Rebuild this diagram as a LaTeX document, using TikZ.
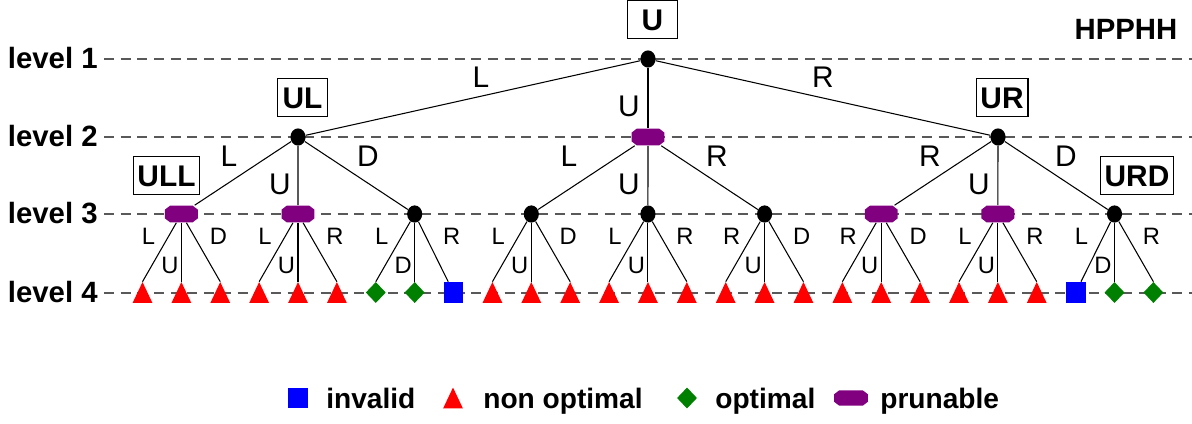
\documentclass[tikz,border=0pt]{standalone}
\usepackage{fontspec}
\setmainfont{Liberation Sans}
\usetikzlibrary{shapes.geometric}
\definecolor{prunecol}{RGB}{128,0,128}
\definecolor{optcol}{RGB}{0,128,0}
\definecolor{nonoptcol}{RGB}{255,0,0}
\definecolor{invcol}{RGB}{0,0,255}
\tikzset{
  levelline/.style={draw=black!65, line width=0.8pt, dash pattern=on 5.7pt off 3.8pt},
  link/.style={draw=black, line width=0.6pt},
  dot/.style={ellipse, fill=black, inner sep=0pt, minimum width=8.6pt, minimum height=9.8pt},
  prune/.style={rectangle, inner sep=0pt, minimum width=18.7pt, minimum height=9.6pt,
    path picture={\fill[prunecol]
      ([xshift=3pt]path picture bounding box.north west) -- ([xshift=-3pt]path picture bounding box.north east)
      -- ([yshift=-2.3pt]path picture bounding box.north east) -- ([yshift=2.3pt]path picture bounding box.south east)
      -- ([xshift=-3pt]path picture bounding box.south east) -- ([xshift=3pt]path picture bounding box.south west)
      -- ([yshift=2.3pt]path picture bounding box.south west) -- ([yshift=-2.3pt]path picture bounding box.north west)
      -- cycle;}},
  leafbox/.style={rectangle, inner sep=0pt, minimum width=11.3pt, minimum height=11.9pt},
  nonoptri/.style={leafbox, path picture={\fill[nonoptcol]
      (path picture bounding box.south west) -- (path picture bounding box.south east)
      -- (path picture bounding box.north) -- cycle;}},
  optdia/.style={leafbox, path picture={\fill[optcol]
      (path picture bounding box.north) -- (path picture bounding box.east)
      -- (path picture bounding box.south) -- (path picture bounding box.west) -- cycle;}},
  invsq/.style={leafbox, fill=invcol},
  tag/.style={draw=black, line width=0.6pt, inner xsep=2.5pt, inner ysep=0pt,
    minimum width=28.9pt, minimum height=22.1pt, text height=12.2pt, text depth=0pt,
    font=\bfseries\fontsize{17}{20}\selectfont},
  bigmove/.style={font=\fontsize{17}{20}\selectfont, inner sep=0pt},
  smallmove/.style={font=\fontsize{13.5}{16}\selectfont, inner sep=0pt},
  levellab/.style={font=\bfseries\fontsize{16.7}{20}\selectfont, inner sep=0pt, anchor=base east},
  legendlab/.style={font=\bfseries\fontsize{16}{20}\selectfont, inner sep=0pt, anchor=base west},
}
\begin{document}
\begin{tikzpicture}[x=0.02cm, y=-0.02cm]
\useasboundingbox (0,0) rectangle (1192,423);

% level guide lines and their labels
\foreach \l/\y in {1/59, 2/137, 3/214, 4/293}{
  \draw[levelline] (104,\y) -- (1192,\y);
  \node[levellab] (lev\l) at (98,\y+9.5) {level \l};
}
\node[font=\bfseries\fontsize{16.7}{20}\selectfont, inner sep=0pt] (seq) at (1126,29.5) {HPPHH};

% root and second level
\node[dot] (root) at (648,59) {};
\node[dot] (n1) at (298,137) {};
\node[prune] (n2) at (648,137) {};
\node[dot] (n3) at (998,137) {};

% third level
\foreach \j/\kind in {1/prune, 2/prune, 3/dot, 4/dot, 5/dot, 6/dot, 7/prune, 8/prune, 9/dot}{
  \node[\kind] (m\j) at ({142.5+38.88*(3*\j-2)},214) {};
}

% leaves
\foreach \i/\kind in {0/nonoptri, 1/nonoptri, 2/nonoptri, 3/nonoptri, 4/nonoptri, 5/nonoptri,
    6/optdia, 7/optdia, 8/invsq, 9/nonoptri, 10/nonoptri, 11/nonoptri, 12/nonoptri,
    13/nonoptri, 14/nonoptri, 15/nonoptri, 16/nonoptri, 17/nonoptri, 18/nonoptri,
    19/nonoptri, 20/nonoptri, 21/nonoptri, 22/nonoptri, 23/nonoptri, 24/invsq,
    25/optdia, 26/optdia}{
  \node[\kind] (leaf\i) at ({142.5+38.88*\i},292.5) {};
}

% state tags
\node[tag] (tU) at (652.5,19.5) {U};
\node[tag] (tUL) at (302.5,97.5) {UL};
\node[tag] (tUR) at (1002,97.5) {UR};
\node[tag] (tULL) at (166.5,175.5) {ULL};
\node[tag] (tURD) at (1137,175.5) {URD};

% edges
\draw[link] (root) -- (n1);
\draw[link] (root) -- (n2);
\draw[link] (root) -- (n3);
\foreach \p/\a/\b/\c in {n1/1/2/3, n2/4/5/6, n3/7/8/9}{
  \draw[link] (\p) -- (m\a);
  \draw[link] (\p) -- (m\b);
  \draw[link] (\p) -- (m\c);
}
\foreach \j in {1,...,9}{
  \foreach \c in {0,1,2}{
    \pgfmathtruncatemacro{\k}{3*\j-3+\c}
    \ifnum\k=8 \def\tip{}\else\ifnum\k=24 \def\tip{}\else\def\tip{.north}\fi\fi
    \draw[link] (m\j) -- (leaf\k\tip);
  }
}

% move labels, first two levels
\node[bigmove] (e1) at (481,77) {L};
\node[bigmove] (e2) at (629,106) {U};
\node[bigmove] (e3) at (823,77) {R};
\node[bigmove] (e4) at (229,156) {L};
\node[bigmove] (e5) at (280,184) {U};
\node[bigmove] (e6) at (368,156) {D};
\node[bigmove] (e7) at (569,156) {L};
\node[bigmove] (e8) at (629,184) {U};
\node[bigmove] (e9) at (717,156) {R};
\node[bigmove] (e10) at (930,156) {R};
\node[bigmove] (e11) at (979,184) {U};
\node[bigmove] (e12) at (1066,156) {D};

% move labels, last level
\foreach \j/\a/\b/\c in {1/L/U/D, 2/L/U/R, 3/L/D/R, 4/L/U/D, 5/L/U/R,
    6/R/U/D, 7/R/U/D, 8/L/U/R, 9/L/D/R}{
  \pgfmathsetmacro{\xm}{142.5+38.88*(3*\j-2)}
  \node[smallmove] (ma\j) at (\xm-33,236.5) {\a};
  \node[smallmove] (mb\j) at (\xm-11.5,265) {\b};
  \node[smallmove] (mc\j) at (\xm+37,236.5) {\c};
}

% legend
\node[invsq] (k1) at (298,398) {};
\node[legendlab] (k1t) at (326,408) {invalid};
\node[nonoptri] (k2) at (453,398) {};
\node[legendlab] (k2t) at (483,408) {non optimal};
\node[optdia] (k3) at (687,398) {};
\node[legendlab] (k3t) at (715,408) {optimal};
\node[prune, minimum width=19.3pt, minimum height=8.8pt] (k4) at (851,398) {};
\node[legendlab] (k4t) at (880,408) {prunable};
\end{tikzpicture}
\end{document}
